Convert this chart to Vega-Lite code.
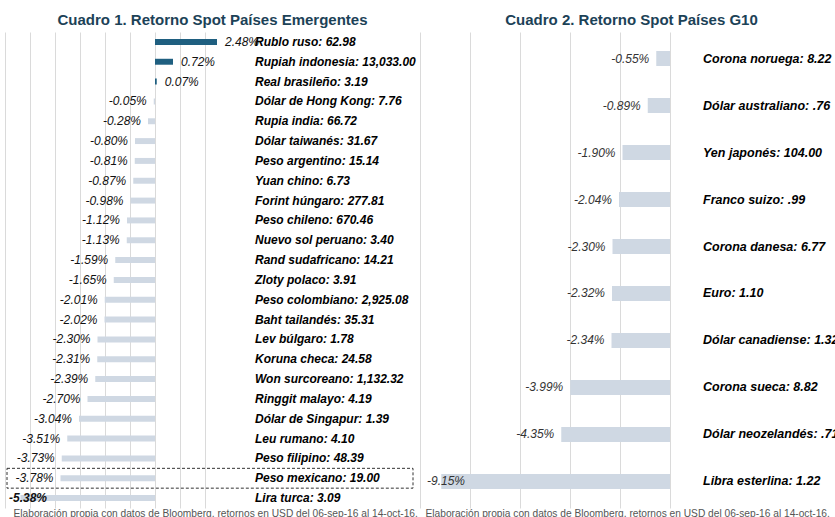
{
  "$schema": "https://vega.github.io/schema/vega-lite/v6.json",
  "background": "white",
  "padding": {"left": 5, "top": 13, "right": 0, "bottom": 0},
  "spacing": 0,
  "config": {
    "view": {"stroke": null},
    "font": "Liberation Sans",
    "title": {"fontSize": 15, "fontWeight": "bold", "color": "#1c4257", "anchor": "middle", "offset": 4}
  },
  "datasets": {
    "em": [
      {"n": "Rublo ruso: 62.98", "r": 2.48},
      {"n": "Rupiah indonesia: 13,033.00", "r": 0.72},
      {"n": "Real brasileño: 3.19", "r": 0.07},
      {"n": "Dólar de Hong Kong: 7.76", "r": -0.05},
      {"n": "Rupia india: 66.72", "r": -0.28},
      {"n": "Dólar taiwanés: 31.67", "r": -0.80},
      {"n": "Peso argentino: 15.14", "r": -0.81},
      {"n": "Yuan chino: 6.73", "r": -0.87},
      {"n": "Forint húngaro: 277.81", "r": -0.98},
      {"n": "Peso chileno: 670.46", "r": -1.12},
      {"n": "Nuevo sol peruano: 3.40", "r": -1.13},
      {"n": "Rand sudafricano: 14.21", "r": -1.59},
      {"n": "Zloty polaco: 3.91", "r": -1.65},
      {"n": "Peso colombiano: 2,925.08", "r": -2.01},
      {"n": "Baht tailandés: 35.31", "r": -2.02},
      {"n": "Lev búlgaro: 1.78", "r": -2.30},
      {"n": "Koruna checa: 24.58", "r": -2.31},
      {"n": "Won surcoreano: 1,132.32", "r": -2.39},
      {"n": "Ringgit malayo: 4.19", "r": -2.70},
      {"n": "Dólar de Singapur: 1.39", "r": -3.04},
      {"n": "Leu rumano: 4.10", "r": -3.51},
      {"n": "Peso filipino: 48.39", "r": -3.73},
      {"n": "Peso mexicano: 19.00", "r": -3.78},
      {"n": "Lira turca: 3.09", "r": -5.38}
    ],
    "g10": [
      {"n": "Corona noruega: 8.22", "r": -0.55},
      {"n": "Dólar australiano: .76", "r": -0.89},
      {"n": "Yen japonés: 104.00", "r": -1.90},
      {"n": "Franco suizo: .99", "r": -2.04},
      {"n": "Corona danesa: 6.77", "r": -2.30},
      {"n": "Euro: 1.10", "r": -2.32},
      {"n": "Dólar canadiense: 1.32", "r": -2.34},
      {"n": "Corona sueca: 8.82", "r": -3.99},
      {"n": "Dólar neozelandés: .71", "r": -4.35},
      {"n": "Libra esterlina: 1.22", "r": -9.15}
    ]
  },
  "hconcat": [
    {
      "width": 415,
      "height": 476,
      "title": {"text": "Cuadro 1. Retorno Spot Países Emergentes"},
      "data": {"name": "em"},
      "transform": [{"calculate": "replace(format(datum.r, '.2f'), '\u2212', '-') + '%'", "as": "lab"}],
      "encoding": {
        "y": {"field": "n", "type": "nominal", "sort": null, "axis": null, "scale": {"paddingInner": 0, "paddingOuter": 0}}
      },
      "layer": [
        {
          "mark": {"type": "bar", "height": {"band": 0.3}},
          "encoding": {
            "x": {
              "field": "r", "type": "quantitative",
              "scale": {"domain": [-6, 10.6], "nice": false},
              "axis": {
                "values": [-6, -5, -4, -3, -2, -1, 0, 1, 2],
                "grid": true, "gridColor": "#dadada", "labels": false, "ticks": false, "domain": false,
                "title": "Elaboración propia con datos de Bloomberg, retornos en USD del 06-sep-16 al 14-oct-16.",
                "titleFontSize": 10.2, "titleFontWeight": "normal", "titleColor": "#555555",
                "titleAnchor": "start", "titleAlign": "left", "titleX": 8, "titleY": 8, "titleBaseline": "alphabetic"
              }
            },
            "color": {"condition": {"test": "datum.r > 0", "value": "#1f5f80"}, "value": "#cfd8e3"}
          }
        },
        {
          "transform": [{"filter": "datum.r > 0"}],
          "mark": {"type": "text", "align": "left", "baseline": "middle", "dx": 8, "fontSize": 12, "fontStyle": "italic", "color": "#111111"},
          "encoding": {"x": {"field": "r", "type": "quantitative"}, "text": {"field": "lab"}}
        },
        {
          "transform": [{"filter": "datum.r <= 0 && datum.r > -5"}],
          "mark": {"type": "text", "align": "right", "baseline": "middle", "dx": -7, "fontSize": 12, "fontStyle": "italic", "color": "#111111"},
          "encoding": {"x": {"field": "r", "type": "quantitative"}, "text": {"field": "lab"}}
        },
        {
          "transform": [{"filter": "datum.r <= -5"}],
          "mark": {"type": "text", "align": "left", "baseline": "middle", "dx": 4, "fontSize": 12, "fontStyle": "italic", "fontWeight": "bold", "color": "#111111"},
          "encoding": {"x": {"datum": -6, "type": "quantitative"}, "text": {"field": "lab"}}
        },
        {
          "mark": {"type": "text", "align": "left", "baseline": "middle", "fontSize": 12, "fontStyle": "italic", "fontWeight": "bold", "color": "#000000"},
          "encoding": {"x": {"datum": 4, "type": "quantitative"}, "text": {"field": "n"}}
        },
        {
          "transform": [{"filter": "datum.n == 'Peso mexicano: 19.00'"}],
          "mark": {"type": "rect", "filled": false, "stroke": "#333333", "strokeWidth": 1, "strokeDash": [3, 2]},
          "encoding": {"x": {"datum": -5.92, "type": "quantitative"}, "x2": {"datum": 10.32}}
        }
      ]
    },
    {
      "width": 415,
      "height": 476,
      "title": {"text": "Cuadro 2. Retorno Spot Países G10", "dx": 4},
      "data": {"name": "g10"},
      "transform": [{"calculate": "replace(format(datum.r, '.2f'), '\u2212', '-') + '%'", "as": "lab"}],
      "encoding": {
        "y": {"field": "n", "type": "nominal", "sort": null, "axis": null, "scale": {"paddingInner": 0, "paddingOuter": 0.064}}
      },
      "layer": [
        {
          "mark": {"type": "bar", "height": {"band": 0.32}, "color": "#cfd8e3"},
          "encoding": {
            "x": {
              "field": "r", "type": "quantitative",
              "scale": {"domain": [-10, 6.6], "nice": false},
              "axis": {
                "values": [-10, -8, -6, -4, -2, 0],
                "grid": true, "gridColor": "#dadada", "labels": false, "ticks": false, "domain": false,
                "title": "Elaboración propia con datos de Bloomberg, retornos en USD del 06-sep-16 al 14-oct-16.",
                "titleFontSize": 10.2, "titleFontWeight": "normal", "titleColor": "#555555",
                "titleAnchor": "start", "titleAlign": "left", "titleX": 5, "titleY": 8, "titleBaseline": "alphabetic"
              }
            }
          }
        },
        {
          "transform": [{"filter": "datum.r > -9"}],
          "mark": {"type": "text", "align": "right", "baseline": "middle", "dx": -7, "fontSize": 12, "fontStyle": "italic", "color": "#333333"},
          "encoding": {"x": {"field": "r", "type": "quantitative"}, "text": {"field": "lab"}}
        },
        {
          "transform": [{"filter": "datum.r <= -9"}],
          "mark": {"type": "text", "align": "left", "baseline": "middle", "dx": 7, "fontSize": 12, "fontStyle": "italic", "color": "#333333"},
          "encoding": {"x": {"datum": -10, "type": "quantitative"}, "text": {"field": "lab"}}
        },
        {
          "mark": {"type": "text", "align": "left", "baseline": "middle", "fontSize": 12.5, "fontStyle": "italic", "fontWeight": "bold", "color": "#000000"},
          "encoding": {"x": {"datum": 1.32, "type": "quantitative"}, "text": {"field": "n"}}
        }
      ]
    }
  ]
}
